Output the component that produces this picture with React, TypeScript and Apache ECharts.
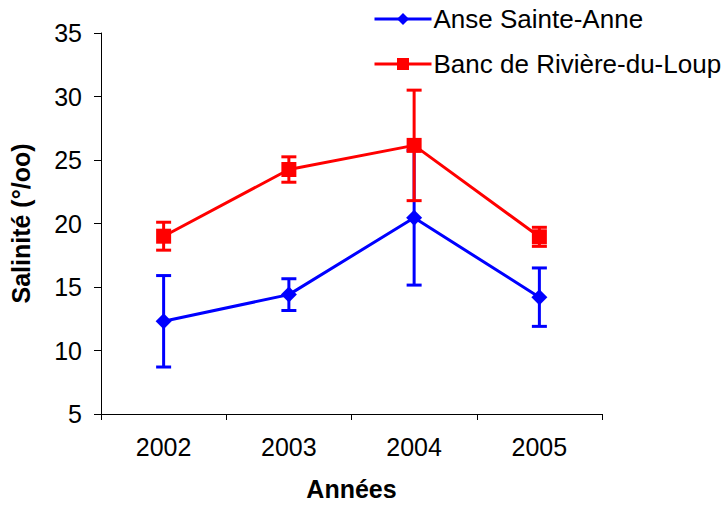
import React, { useEffect, useRef } from "react";
import * as echarts from "echarts";

const years = ["2002", "2003", "2004", "2005"];
const anseMean = [12.3, 14.4, 20.45, 14.2];
const anseErr = [3.6, 1.25, 5.3, 2.3];
const bancMean = [19.0, 24.25, 26.15, 18.95];
const bancErr = [1.1, 1.0, 4.35, 0.75];
const yTicks = { min: 5, max: 35, interval: 5 };

const FONT = "'Liberation Sans', Arial, sans-serif";

function errorSeries(name: string, mean: number[], err: number[], color: string, z: number) {
  return {
    name,
    type: "custom",
    z,
    silent: true,
    encode: { x: 0, y: [1, 2] },
    data: mean.map((m, i) => [i, m - err[i], m + err[i]]),
    renderItem: (params: any, api: any) => {
      const x = api.value(0);
      const lo = api.coord([x, api.value(1)]);
      const hi = api.coord([x, api.value(2)]);
      const hw = 7.5;
      const style = { stroke: color, lineWidth: 3 };
      return {
        type: "group",
        children: [
          { type: "line", shape: { x1: lo[0], y1: lo[1], x2: hi[0], y2: hi[1] }, style },
          { type: "line", shape: { x1: lo[0] - hw, y1: lo[1], x2: lo[0] + hw, y2: lo[1] }, style },
          { type: "line", shape: { x1: hi[0] - hw, y1: hi[1], x2: hi[0] + hw, y2: hi[1] }, style },
        ],
      };
    },
  };
}

export default function App() {
  const ref = useRef<HTMLDivElement>(null);
  useEffect(() => {
    const chart = echarts.init(ref.current!, null, { renderer: "svg" });
    const option: any = {
      animation: false,
      backgroundColor: "#fff",
      textStyle: { fontFamily: FONT, color: "#000" },
      grid: { left: 96, top: 33, right: 123, bottom: 94, containLabel: false },
      legend: {
        orient: "vertical",
        left: 368,
        top: 1,
        itemWidth: 57,
        itemHeight: 15,
        itemGap: 19,
        data: ["Anse Sainte-Anne", "Banc de Rivière-du-Loup"],
        lineStyle: { width: 3 },
        textStyle: { fontFamily: FONT, fontSize: 26, color: "#000", padding: [0, 0, 0, -3] },
      },
      xAxis: {
        type: "category",
        data: years,
        boundaryGap: true,
        axisLine: { lineStyle: { color: "#000", width: 1 } },
        axisTick: { show: true, length: 6, lineStyle: { color: "#000" } },
        axisLabel: { fontFamily: FONT, fontSize: 25, color: "#000", margin: 20 },
        name: "Années",
        nameLocation: "middle",
        nameGap: 62,
        nameTextStyle: { fontFamily: FONT, fontSize: 25, fontWeight: "bold", color: "#000" },
      },
      yAxis: {
        type: "value",
        min: yTicks.min,
        max: yTicks.max,
        interval: yTicks.interval,
        splitLine: { show: false },
        axisLine: { show: true, lineStyle: { color: "#000", width: 1 } },
        axisTick: { show: true, length: 7, lineStyle: { color: "#000" } },
        axisLabel: { fontFamily: FONT, fontSize: 25, color: "#000", margin: 19 },
        name: "Salinité (°/oo)",
        nameLocation: "middle",
        nameGap: 68,
        nameRotate: 90,
        nameTextStyle: { fontFamily: FONT, fontSize: 25, fontWeight: "bold", color: "#000" },
      },
      series: [
        errorSeries("err-anse", anseMean, anseErr, "#0000FF", 2),
        {
          name: "Anse Sainte-Anne",
          type: "line",
          z: 3,
          data: anseMean,
          symbol: "diamond",
          symbolSize: 16,
          lineStyle: { color: "#0000FF", width: 3 },
          itemStyle: { color: "#0000FF" },
        },
        errorSeries("err-banc", bancMean, bancErr, "#FF0000", 4),
        {
          name: "Banc de Rivière-du-Loup",
          type: "line",
          z: 5,
          data: bancMean,
          symbol: "rect",
          symbolSize: 15,
          lineStyle: { color: "#FF0000", width: 3 },
          itemStyle: { color: "#FF0000" },
        },
      ],
    };
    chart.setOption(option);
    return () => chart.dispose();
  }, []);
  return (
    <div
      ref={ref}
      style={{ position: "fixed", left: 0, top: 0, width: 725, height: 508, background: "#fff" }}
    />
  );
}
